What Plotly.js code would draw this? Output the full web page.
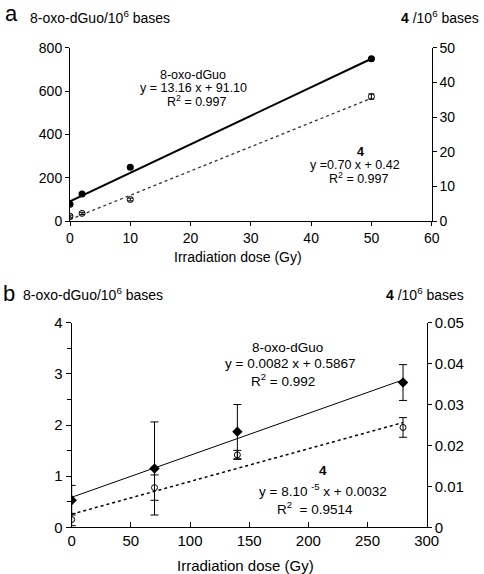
<!DOCTYPE html>
<html><head><meta charset="utf-8">
<script src="https://cdn.plot.ly/plotly-3.0.1.min.js"></script>
<style>html,body{margin:0;padding:0;background:#fff}#chart{width:484px;height:574px}</style>
</head><body><div id="chart"></div>
<script>
// Panel a
const doseA = [0, 2, 10, 50];
const oxoA = [77, 125, 248, 749];
const oxoAErr = [4, 4, 6, 5];
const cmpdA = [1.4, 2.2, 6.2, 35.9];
const cmpdAErr = [0.3, 0.3, 0.4, 0.75];
const fitDoseA = [0, 50];
const fitOxoA = [91.1, 749.1];
const fitCmpdA = [0.42, 35.42];
// Panel b
const doseB = [0, 70, 140, 280];
const oxoB = [0.53, 1.15, 1.87, 2.83];
const oxoBErr = [0.29, 0.91, 0.53, 0.35];
const cmpdB = [0.0019, 0.0097, 0.0177, 0.0244];
const cmpdBErr = [0.0015, 0.0031, 0.0011, 0.0024];
const fitDoseB = [0, 280];
const fitOxoB = [0.5867, 2.8827];
const fitCmpdB = [0.0032, 0.0256];

const F = 'Liberation Sans, Arial, sans-serif';
const W = 484, H = 574;
const px = x => x / W, py = y => 1 - y / H;

const traces = [
  {x: fitDoseA, y: fitOxoA, xaxis: 'x', yaxis: 'y', mode: 'lines', line: {color: '#000', width: 2}},
  {x: fitDoseA, y: fitCmpdA, xaxis: 'x', yaxis: 'y2', mode: 'lines', line: {color: '#333', width: 1.3, dash: 'dot'}},
  {x: doseA, y: oxoA, xaxis: 'x', yaxis: 'y', mode: 'markers',
   marker: {symbol: 'circle', size: 7, color: '#000'},
   error_y: {type: 'data', array: oxoAErr, color: '#000', thickness: 1, width: 3}},
  {x: doseA, y: cmpdA, xaxis: 'x', yaxis: 'y2', mode: 'markers',
   marker: {symbol: 'circle-open', size: 6, color: '#000', line: {width: 1}},
   error_y: {type: 'data', array: cmpdAErr, color: '#000', thickness: 1, width: 3}},

  {x: fitDoseB, y: fitOxoB, xaxis: 'x2', yaxis: 'y4', mode: 'lines', line: {color: '#000', width: 1}},
  {x: fitDoseB, y: fitCmpdB, xaxis: 'x2', yaxis: 'y5', mode: 'lines', line: {color: '#000', width: 1.5, dash: 'dot'}},
  {x: doseB, y: oxoB, xaxis: 'x2', yaxis: 'y4', mode: 'markers',
   marker: {symbol: 'diamond', size: 8, color: '#000'},
   error_y: {type: 'data', array: oxoBErr, color: '#000', thickness: 1, width: 4}},
  {x: doseB, y: cmpdB, xaxis: 'x2', yaxis: 'y5', mode: 'markers',
   marker: {symbol: 'circle-open', size: 6, color: '#000', line: {width: 1}},
   error_y: {type: 'data', array: cmpdBErr, color: '#000', thickness: 1, width: 4}}
];

const ax = {showgrid: false, zeroline: false, showline: true, linecolor: '#000', linewidth: 1,
  tickcolor: '#000', ticklen: 4, tickwidth: 1, fixedrange: true};

const layout = {
  width: W, height: H, margin: {l: 0, r: 0, t: 0, b: 0},
  paper_bgcolor: '#fff', plot_bgcolor: 'rgba(0,0,0,0)',
  showlegend: false, font: {family: F, color: '#000', size: 14},
  xaxis: Object.assign({}, ax, {domain: [70 / W, 431.7 / W], anchor: 'y', range: [0, 60], dtick: 10,
    ticks: 'outside', tickfont: {size: 14}}),
  yaxis: Object.assign({}, ax, {domain: [py(221), py(47.7)], anchor: 'x', range: [0, 800], dtick: 200,
    ticks: 'outside', tickfont: {size: 14}}),
  yaxis2: Object.assign({}, ax, {overlaying: 'y', anchor: 'x', side: 'right', range: [0, 50], dtick: 10,
    ticks: 'outside', tickfont: {size: 14}}),
  yaxis3: Object.assign({}, ax, {overlaying: 'y', anchor: 'x', side: 'right', range: [0, 50], dtick: 10,
    ticks: 'inside', showticklabels: false, showline: false}),

  xaxis2: Object.assign({}, ax, {domain: [71.7 / W, 426.7 / W], anchor: 'y4', range: [0, 300], dtick: 50,
    ticks: 'inside', ticklen: 5, tickfont: {size: 15}}),
  yaxis4: Object.assign({}, ax, {domain: [py(527.3), py(322.7)], anchor: 'x2', range: [0, 4], dtick: 1,
    ticks: 'outside', ticklen: 5, tickfont: {size: 15},
    minor: {dtick: 0.5, ticks: 'outside', ticklen: 4, tickcolor: '#000', showgrid: false}}),
  yaxis5: Object.assign({}, ax, {overlaying: 'y4', anchor: 'x2', side: 'right', range: [0, 0.05], dtick: 0.01,
    ticks: 'outside', ticklen: 4, tickfont: {size: 15}}),
  yaxis6: Object.assign({}, ax, {overlaying: 'y4', anchor: 'x2', side: 'right', range: [0, 0.05], dtick: 0.01,
    ticks: 'inside', ticklen: 4, showticklabels: false, showline: false}),

  annotations: [
    {text: 'a', x: px(3), y: py(13), xanchor: 'left', yanchor: 'middle', font: {size: 22}},
    {text: '8-oxo-dGuo/10<sup>6</sup> bases', x: px(28), y: py(17), xanchor: 'left', yanchor: 'middle', font: {size: 14}},
    {text: '<b>4</b> /10<sup>6</sup> bases', x: px(481), y: py(17), xanchor: 'right', yanchor: 'middle', font: {size: 14}},
    {text: 'Irradiation dose (Gy)', x: px(237.5), y: py(257), xanchor: 'center', yanchor: 'middle', font: {size: 14}},
    {text: '8-oxo-dGuo', x: px(193), y: py(75), xanchor: 'center', yanchor: 'middle', font: {size: 12.5}},
    {text: 'y = 13.16 x + 91.10', x: px(193), y: py(88), xanchor: 'center', yanchor: 'middle', font: {size: 12.5}},
    {text: 'R<sup>2</sup> = 0.997', x: px(196), y: py(101), xanchor: 'center', yanchor: 'middle', font: {size: 12.5}},
    {text: '<b>4</b>', x: px(360), y: py(152), xanchor: 'center', yanchor: 'middle', font: {size: 12.5}},
    {text: 'y =0.70 x + 0.42', x: px(355), y: py(165), xanchor: 'center', yanchor: 'middle', font: {size: 12.5}},
    {text: 'R<sup>2</sup> = 0.997', x: px(358), y: py(178), xanchor: 'center', yanchor: 'middle', font: {size: 12.5}},

    {text: 'b', x: px(1), y: py(293), xanchor: 'left', yanchor: 'middle', font: {size: 22}},
    {text: '8-oxo-dGuo/10<sup>6</sup> bases', x: px(21), y: py(294), xanchor: 'left', yanchor: 'middle', font: {size: 14}},
    {text: '<b>4</b> /10<sup>6</sup> bases', x: px(466), y: py(294), xanchor: 'right', yanchor: 'middle', font: {size: 14}},
    {text: 'Irradiation dose (Gy)', x: px(245), y: py(565), xanchor: 'center', yanchor: 'middle', font: {size: 15}},
    {text: '8-oxo-dGuo', x: px(287), y: py(347), xanchor: 'center', yanchor: 'middle', font: {size: 13.5}},
    {text: 'y = 0.0082 x + 0.5867', x: px(290), y: py(363), xanchor: 'center', yanchor: 'middle', font: {size: 13.5}},
    {text: 'R<sup>2</sup> = 0.992', x: px(283), y: py(380), xanchor: 'center', yanchor: 'middle', font: {size: 13.5}},
    {text: '<b>4</b>', x: px(323), y: py(470), xanchor: 'center', yanchor: 'middle', font: {size: 13.5}},
    {text: 'y = 8.10 <sup>-5</sup> x + 0.0032', x: px(323), y: py(490), xanchor: 'center', yanchor: 'middle', font: {size: 13.5}},
    {text: 'R<sup>2</sup>  = 0.9514', x: px(315), y: py(508), xanchor: 'center', yanchor: 'middle', font: {size: 13.5}}
  ].map(a => Object.assign({xref: 'paper', yref: 'paper', showarrow: false}, a))
};

Plotly.newPlot('chart', traces, layout, {staticPlot: true, displayModeBar: false});
</script></body></html>
